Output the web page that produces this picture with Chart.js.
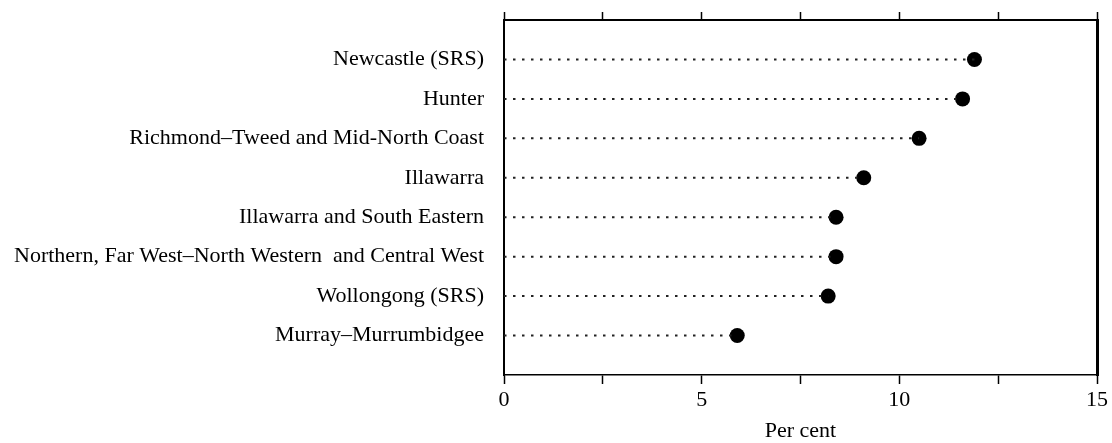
<!DOCTYPE html>
<html>
<head>
<meta charset="utf-8">
<script src="https://cdn.jsdelivr.net/npm/chart.js@4/dist/chart.umd.min.js"></script>
<style>
  html, body { margin: 0; padding: 0; background: #fff; }
  #wrap { width: 1112px; height: 443px; }
</style>
</head>
<body>
<div id="wrap"><canvas id="chartDots"></canvas></div>
<script>
// Dot plot: share by region, per cent

const categories = [
    'Newcastle (SRS)',
    'Hunter',
    'Richmond\u2013Tweed and Mid-North Coast',
    'Illawarra',
    'Illawarra and South Eastern',
    'Northern, Far West\u2013North Western  and Central West',
    'Wollongong (SRS)',
    'Murray\u2013Murrumbidgee'
];
const values = [11.9, 11.6, 10.5, 9.1, 8.4, 8.4, 8.2, 5.9];
const rows = [1, 2, 3, 4, 5, 6, 7, 8];
const xTickLabels = [0, 5, 10, 15];

const serif = 'Liberation Serif';
const ink = '#000';

// one dotted leader per row, from 0 to the value
const leaders = categories.map((c, i) => ({
    type: 'line',
    data: [{ x: 0, y: rows[i] }, { x: values[i], y: rows[i] }],
    borderColor: '#222',
    borderWidth: 2,
    borderDash: [2.5, 6.5],
    pointRadius: 0,
    fill: false,
}));

const dots = {
    type: 'scatter',
    data: values.map((v, i) => ({ x: v, y: rows[i] })),
    pointRadius: 7.5,
    pointHoverRadius: 7.5,
    backgroundColor: ink,
    borderColor: ink,
    borderWidth: 0,
};

new Chart(document.getElementById('chartDots'), {
    type: 'scatter',
    data: { datasets: [...leaders, dots] },
    options: {
        responsive: true,
        maintainAspectRatio: false,
        animation: false,
        layout: { padding: { left: 0, right: 15, top: 0, bottom: 0 } },
        plugins: { legend: { display: false }, tooltip: { enabled: false } },
        scales: {
            x: {
                type: 'linear', position: 'bottom', min: 0, max: 15,
                afterFit: s => { s.height = 68; },
                ticks: {
                    stepSize: 2.5, autoSkip: false, color: ink, padding: 3,
                    font: { family: serif, size: 22 },
                    callback: v => xTickLabels.includes(v) ? String(v) : '',
                },
                grid: { drawOnChartArea: false, tickLength: 9, color: ink, tickWidth: 1.5 },
                border: { color: ink, width: 1.5 },
                title: {
                    display: true, text: 'Per cent', color: ink,
                    font: { family: serif, size: 22, lineHeight: 1 },
                    padding: { top: 0, bottom: 1 },
                },
            },
            x2: {
                type: 'linear', position: 'top', min: 0, max: 15,
                afterFit: s => { s.height = 20; },
                ticks: { stepSize: 2.5, display: false },
                grid: { drawOnChartArea: false, tickLength: 8, color: ink, tickWidth: 1.5 },
                border: { color: ink, width: 2 },
            },
            y: {
                type: 'linear', position: 'left', min: 0, max: 9, reverse: true,
                afterFit: s => { s.width = 504; },
                ticks: {
                    stepSize: 1, autoSkip: false, color: ink, padding: 0,
                    font: { family: serif, size: 22 },
                    callback: v => categories[v - 1] || '',
                },
                // invisible tick marks just to keep the labels off the axis
                grid: { drawOnChartArea: false, drawTicks: true, tickLength: 20, tickColor: 'rgba(0,0,0,0)' },
                border: { color: ink, width: 2 },
            },
            y2: {
                type: 'linear', position: 'right', min: 0, max: 9, reverse: true,
                afterFit: s => { s.width = 0; },
                ticks: { display: false },
                grid: { drawOnChartArea: false, drawTicks: false },
                border: { color: ink, width: 3 },
            },
        },
    },
});
</script>
</body>
</html>
